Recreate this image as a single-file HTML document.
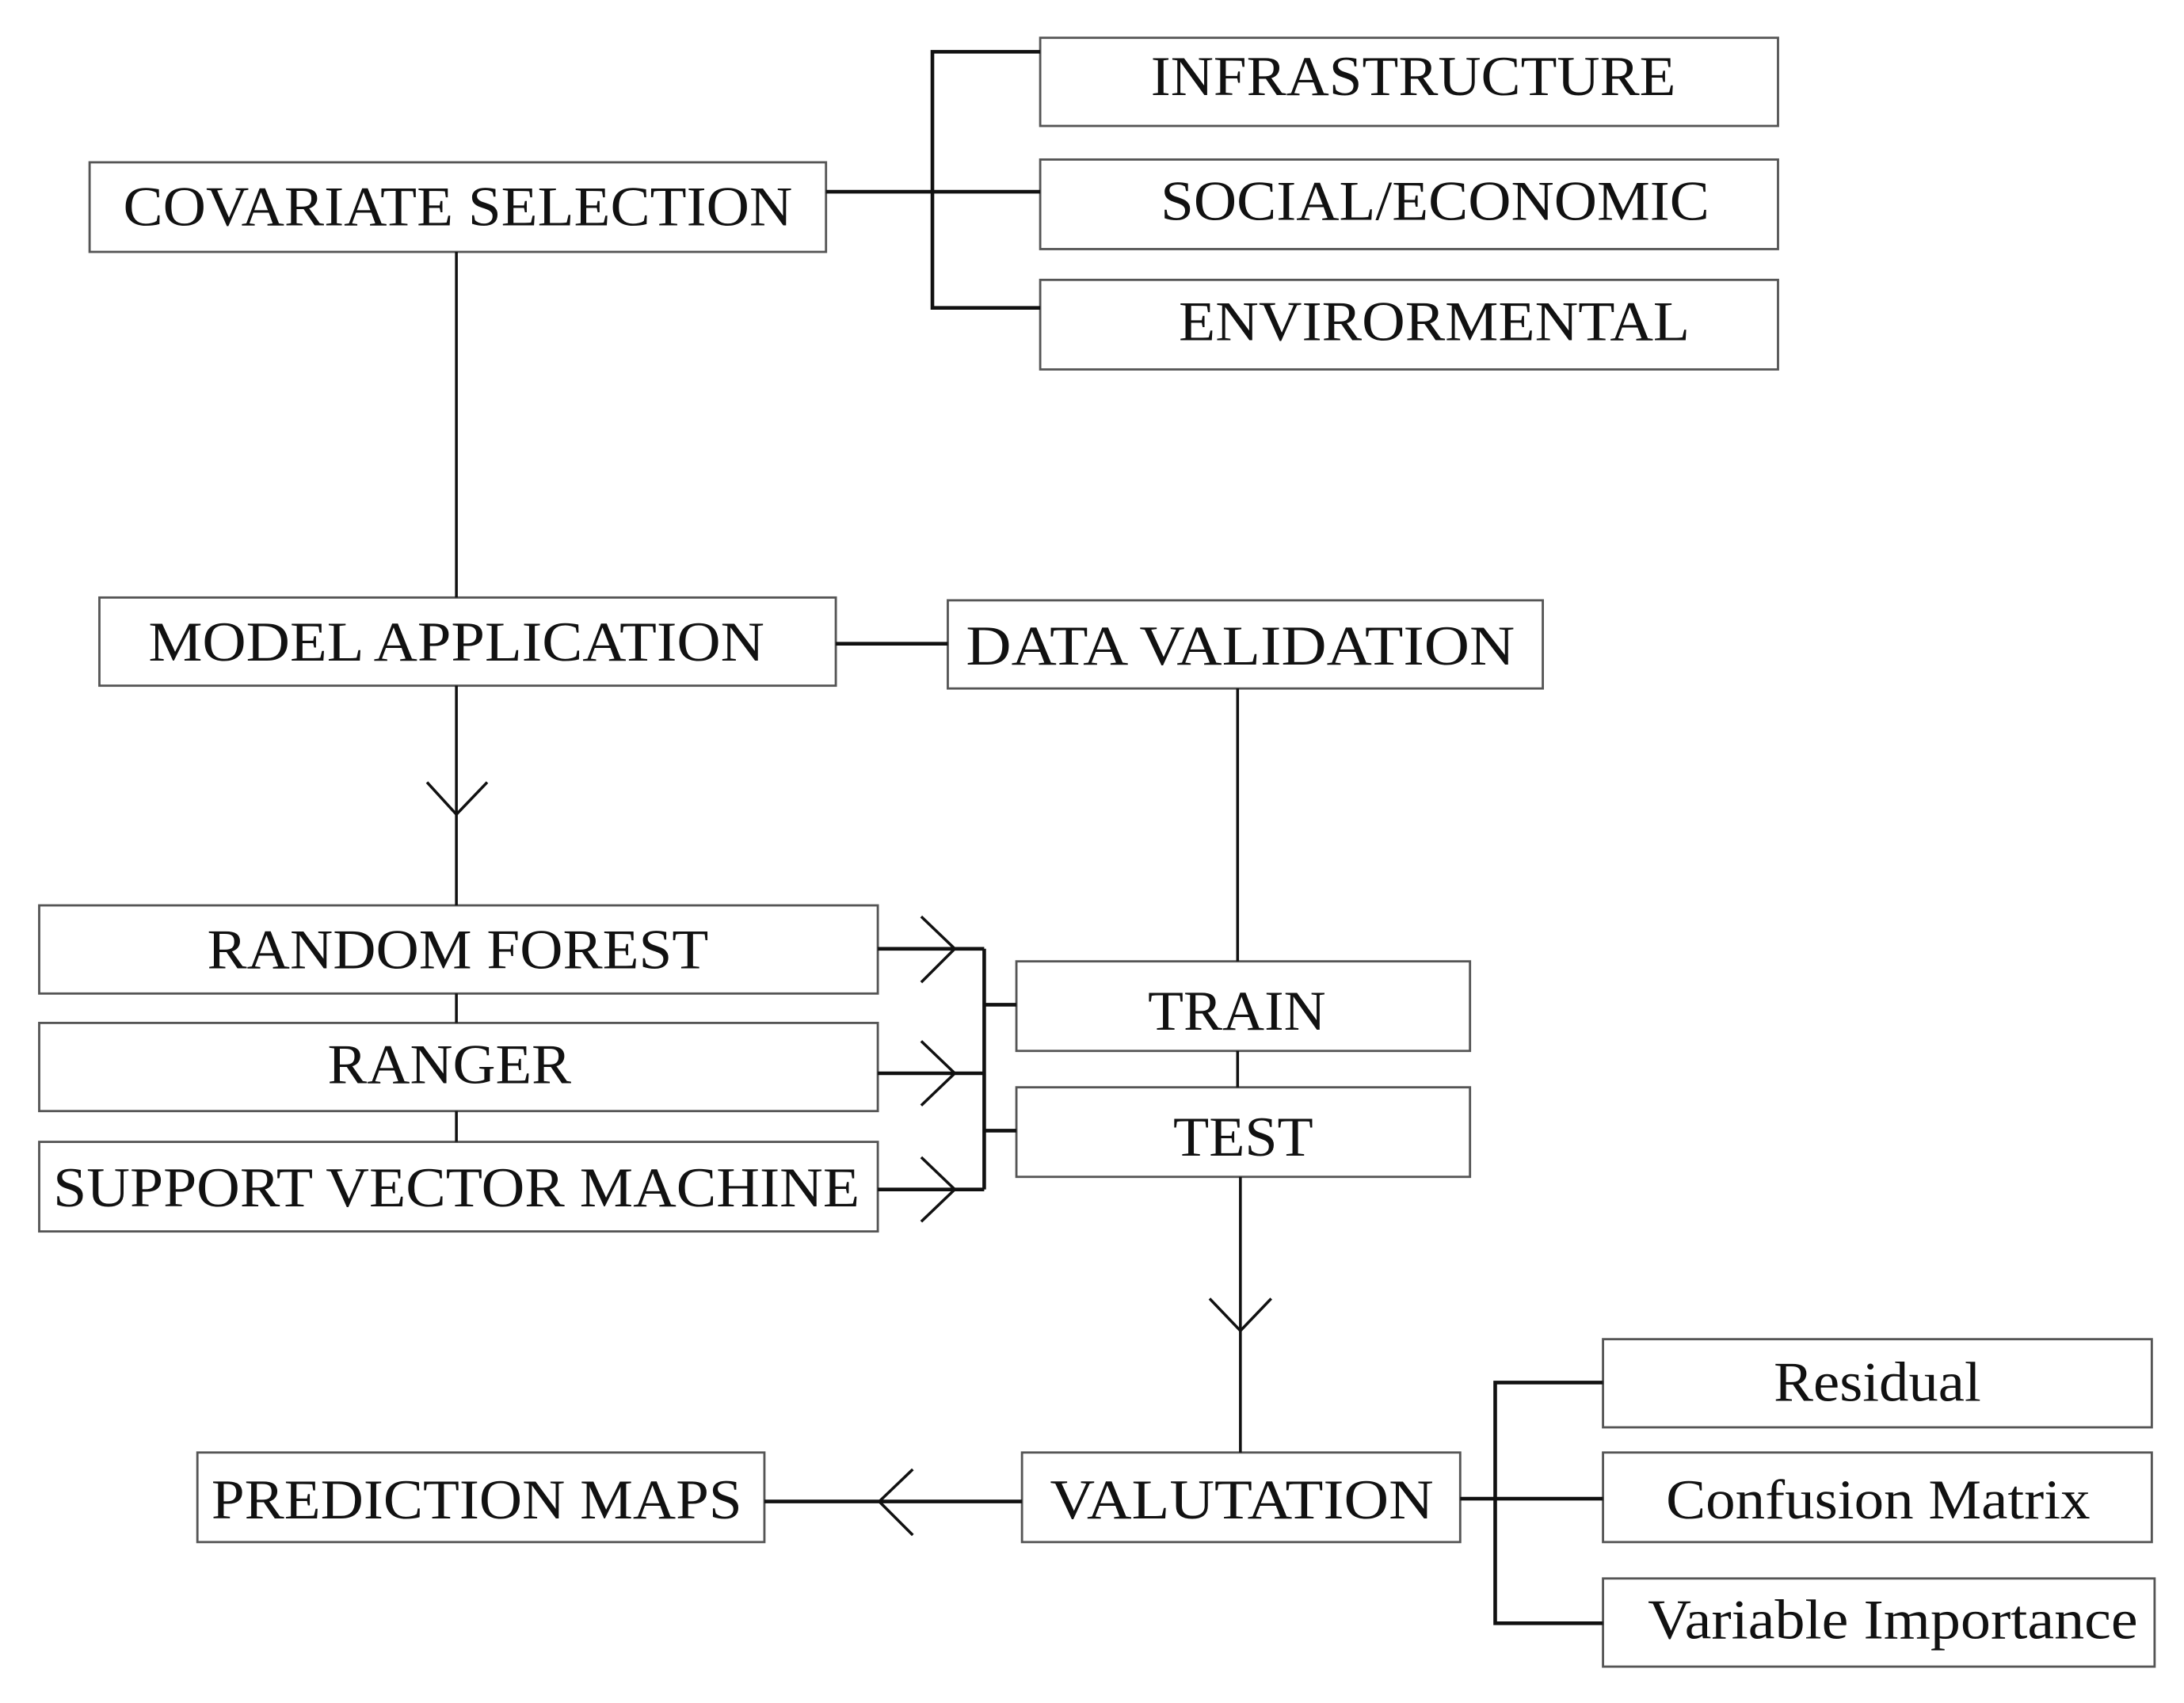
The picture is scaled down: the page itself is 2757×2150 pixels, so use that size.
<!DOCTYPE html>
<html><head><meta charset="utf-8"><style>
html,body{margin:0;padding:0;background:#fff;}
svg{display:block;}
text{font-family:"Liberation Serif","Times New Roman",serif;font-size:40px;fill:#111;}
</style></head><body>
<svg width="2757" height="2150" viewBox="0 0 1560 1217" preserveAspectRatio="none" xmlns="http://www.w3.org/2000/svg">
<g fill="#fff" stroke="#555" stroke-width="1.6">
<rect x="743" y="27" width="527" height="63"/>
<rect x="743" y="114" width="527" height="64"/>
<rect x="743" y="200" width="527" height="64"/>
<rect x="64" y="116" width="526" height="64"/>
<rect x="71" y="427" width="526" height="63"/>
<rect x="677" y="429" width="425" height="63"/>
<rect x="28" y="647" width="599" height="63"/>
<rect x="28" y="731" width="599" height="63"/>
<rect x="28" y="816" width="599" height="64"/>
<rect x="726" y="687" width="324" height="64"/>
<rect x="726" y="777" width="324" height="64"/>
<rect x="730" y="1038" width="313" height="64"/>
<rect x="141" y="1038" width="405" height="64"/>
<rect x="1145" y="957" width="392" height="63"/>
<rect x="1145" y="1038" width="392" height="64"/>
<rect x="1145" y="1128" width="394" height="63"/>
</g>
<g stroke="#111" stroke-width="2.6" fill="none">
<polyline points="743,37 666,37 666,220 743,220"/>
<line x1="590" y1="137" x2="743" y2="137"/>
<line x1="597" y1="460" x2="677" y2="460"/>
<line x1="627" y1="678" x2="703" y2="678"/>
<line x1="627" y1="767" x2="703" y2="767"/>
<line x1="627" y1="850" x2="703" y2="850"/>
<line x1="703" y1="678" x2="703" y2="850"/>
<line x1="703" y1="718" x2="726" y2="718"/>
<line x1="703" y1="808" x2="726" y2="808"/>
<line x1="546" y1="1073" x2="730" y2="1073"/>
<polyline points="1145,988 1068,988 1068,1160 1145,1160"/>
<line x1="1043" y1="1071" x2="1145" y2="1071"/>
</g>
<g stroke="#111" stroke-width="2" fill="none">
<line x1="326" y1="180" x2="326" y2="427"/>
<line x1="326" y1="490" x2="326" y2="647"/>
<line x1="326" y1="710" x2="326" y2="731"/>
<line x1="326" y1="794" x2="326" y2="816"/>
<line x1="884" y1="492" x2="884" y2="687"/>
<line x1="884" y1="751" x2="884" y2="777"/>
<line x1="886" y1="841" x2="886" y2="1038"/>
<polyline points="305,559 326,582 348,559"/>
<polyline points="658,655 682,678 658,702"/>
<polyline points="658,744 682,767 658,790"/>
<polyline points="658,827 682,850 658,873"/>
<polyline points="864,928 886,951 908,928"/>
<polyline points="652,1050 628,1073 652,1097"/>
</g>
<g>
<text x="822" y="68" textLength="375" lengthAdjust="spacingAndGlyphs">INFRASTRUCTURE</text>
<text x="829" y="157" textLength="392" lengthAdjust="spacingAndGlyphs">SOCIAL/ECONOMIC</text>
<text x="842" y="243" textLength="365" lengthAdjust="spacingAndGlyphs">ENVIRORMENTAL</text>
<text x="88" y="161" textLength="478" lengthAdjust="spacingAndGlyphs">COVARIATE SELECTION</text>
<text x="106" y="472" textLength="440" lengthAdjust="spacingAndGlyphs">MODEL APPLICATION</text>
<text x="690" y="475" textLength="392" lengthAdjust="spacingAndGlyphs">DATA VALIDATION</text>
<text x="148" y="692" textLength="358" lengthAdjust="spacingAndGlyphs">RANDOM FOREST</text>
<text x="234" y="774" textLength="174" lengthAdjust="spacingAndGlyphs">RANGER</text>
<text x="38" y="862" textLength="576" lengthAdjust="spacingAndGlyphs">SUPPORT VECTOR MACHINE</text>
<text x="820" y="736" textLength="127" lengthAdjust="spacingAndGlyphs">TRAIN</text>
<text x="838" y="826" textLength="100" lengthAdjust="spacingAndGlyphs">TEST</text>
<text x="750" y="1085" textLength="274" lengthAdjust="spacingAndGlyphs">VALUTATION</text>
<text x="151" y="1085" textLength="379" lengthAdjust="spacingAndGlyphs">PREDICTION MAPS</text>
<text x="1267" y="1001" textLength="148" lengthAdjust="spacingAndGlyphs">Residual</text>
<text x="1190" y="1085" textLength="303" lengthAdjust="spacingAndGlyphs">Confusion Matrix</text>
<text x="1177" y="1171" textLength="350" lengthAdjust="spacingAndGlyphs">Variable Importance</text>
</g>
</svg>
</body></html>
